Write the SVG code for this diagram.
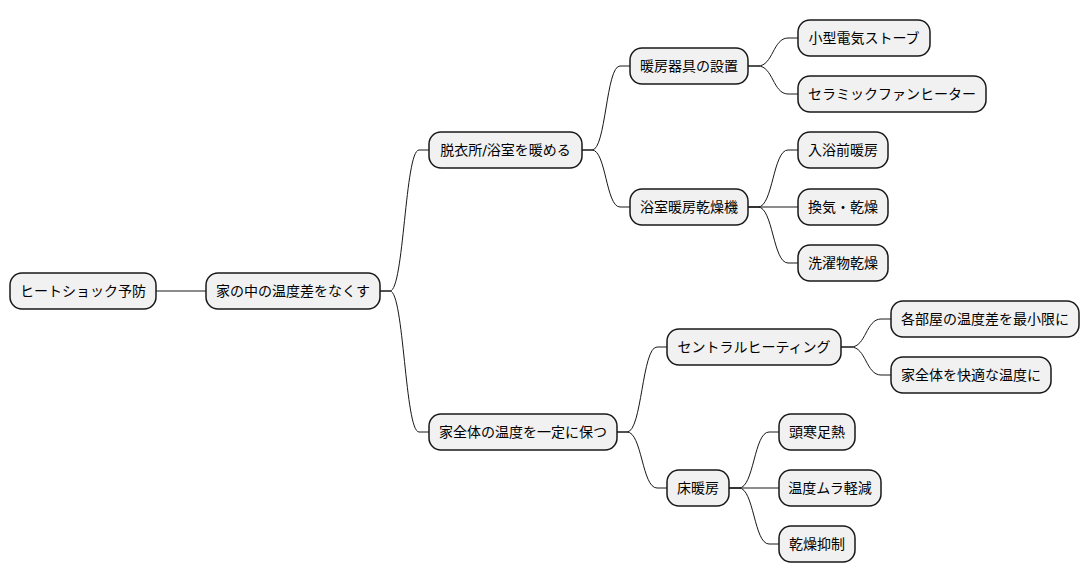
<svg xmlns="http://www.w3.org/2000/svg" width="1090" height="583" viewBox="0 0 1090 583">
<style>
.n rect{fill:#F1F1F1;stroke:#181818;stroke-width:1.5}
.n text{font-family:"DejaVu Sans","Noto Sans CJK JP",sans-serif;font-size:14px;fill:#000;text-anchor:middle}
.c path{fill:none;stroke:#181818;stroke-width:1}
</style>
<rect width="1090" height="583" fill="#fff"/>
<g class="c">
<path d="M156,291 L206,291"/>
<path d="M380,291 L390,291 C404,291 405,150 419,150 L429,150"/>
<path d="M380,291 L390,291 C404,291 405,432 419,432 L429,432"/>
<path d="M582,150 L592,150 C606,150 606,66 620,66 L630,66"/>
<path d="M582,150 L592,150 C606,150 606,207 620,207 L630,207"/>
<path d="M748,66 L758,66 C773,66 773,38 788,38 L798,38"/>
<path d="M748,66 L758,66 C773,66 773,94 788,94 L798,94"/>
<path d="M748,207 L758,207 C773,207 773,150 788,150 L798,150"/>
<path d="M748,207 L798,207"/>
<path d="M748,207 L758,207 C773,207 773,263 788,263 L798,263"/>
<path d="M617,432 L627,432 C642,432 642,347 657,347 L667,347"/>
<path d="M617,432 L627,432 C642,432 642,488 657,488 L667,488"/>
<path d="M841,347 L851,347 C866,347 866,319 881,319 L891,319"/>
<path d="M841,347 L851,347 C866,347 866,375 881,375 L891,375"/>
<path d="M729,488 L739,488 C754,488 754,432 769,432 L779,432"/>
<path d="M729,488 L779,488"/>
<path d="M729,488 L739,488 C754,488 754,544 769,544 L779,544"/>
</g>
<g id="root" class="n"><rect x="10" y="273" width="146" height="36" rx="12"/><text x="83" y="296">ヒートショック予防</text></g>
<g id="n1" class="n"><rect x="206" y="273" width="174" height="36" rx="12"/><text x="293" y="296">家の中の温度差をなくす</text></g>
<g id="n2" class="n"><rect x="429" y="132" width="153" height="36" rx="12"/><text x="505.5" y="155">脱衣所/浴室を暖める</text></g>
<g id="n3" class="n"><rect x="630" y="48" width="118" height="36" rx="12"/><text x="689" y="71">暖房器具の設置</text></g>
<g id="n4" class="n"><rect x="798" y="20" width="132" height="36" rx="12"/><text x="864" y="43">小型電気ストーブ</text></g>
<g id="n5" class="n"><rect x="798" y="76" width="188" height="36" rx="12"/><text x="892" y="99">セラミックファンヒーター</text></g>
<g id="n6" class="n"><rect x="630" y="189" width="118" height="36" rx="12"/><text x="689" y="212">浴室暖房乾燥機</text></g>
<g id="n7" class="n"><rect x="798" y="132" width="90" height="36" rx="12"/><text x="843" y="155">入浴前暖房</text></g>
<g id="n8" class="n"><rect x="798" y="189" width="90" height="36" rx="12"/><text x="843" y="212">換気・乾燥</text></g>
<g id="n9" class="n"><rect x="798" y="245" width="90" height="36" rx="12"/><text x="843" y="268">洗濯物乾燥</text></g>
<g id="n10" class="n"><rect x="429" y="414" width="188" height="36" rx="12"/><text x="523" y="437">家全体の温度を一定に保つ</text></g>
<g id="n11" class="n"><rect x="667" y="329" width="174" height="36" rx="12"/><text x="754" y="352">セントラルヒーティング</text></g>
<g id="n12" class="n"><rect x="891" y="301" width="188" height="36" rx="12"/><text x="985" y="324">各部屋の温度差を最小限に</text></g>
<g id="n13" class="n"><rect x="891" y="357" width="160" height="36" rx="12"/><text x="971" y="380">家全体を快適な温度に</text></g>
<g id="n14" class="n"><rect x="667" y="470" width="62" height="36" rx="12"/><text x="698" y="493">床暖房</text></g>
<g id="n15" class="n"><rect x="779" y="414" width="76" height="36" rx="12"/><text x="817" y="437">頭寒足熱</text></g>
<g id="n16" class="n"><rect x="779" y="470" width="102" height="36" rx="12"/><text x="830" y="493">温度ムラ軽減</text></g>
<g id="n17" class="n"><rect x="779" y="526" width="76" height="36" rx="12"/><text x="817" y="549">乾燥抑制</text></g>
</svg>
